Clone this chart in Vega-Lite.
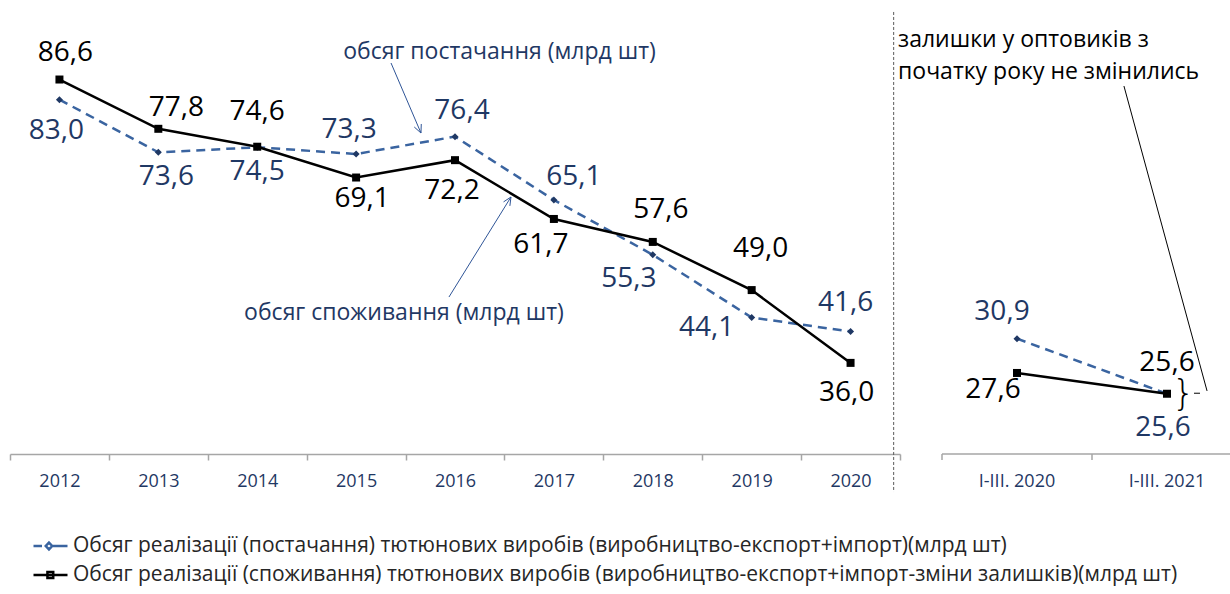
{
  "$schema": "https://vega.github.io/schema/vega-lite/v6.json",
  "padding": {"left": 9, "top": 0, "right": 0, "bottom": 4},
  "spacing": 42,
  "bounds": "flush",
  "background": "white",
  "datasets": {
    "main": [
      {"period": "2012", "series": "supply", "value": 83.0, "panel": "year"},
      {"period": "2013", "series": "supply", "value": 73.6, "panel": "year"},
      {"period": "2014", "series": "supply", "value": 74.5, "panel": "year"},
      {"period": "2015", "series": "supply", "value": 73.3, "panel": "year"},
      {"period": "2016", "series": "supply", "value": 76.4, "panel": "year"},
      {"period": "2017", "series": "supply", "value": 65.1, "panel": "year"},
      {"period": "2018", "series": "supply", "value": 55.3, "panel": "year"},
      {"period": "2019", "series": "supply", "value": 44.1, "panel": "year"},
      {"period": "2020", "series": "supply", "value": 41.6, "panel": "year"},
      {"period": "2012", "series": "consumption", "value": 86.6, "panel": "year"},
      {"period": "2013", "series": "consumption", "value": 77.8, "panel": "year"},
      {"period": "2014", "series": "consumption", "value": 74.6, "panel": "year"},
      {"period": "2015", "series": "consumption", "value": 69.1, "panel": "year"},
      {"period": "2016", "series": "consumption", "value": 72.2, "panel": "year"},
      {"period": "2017", "series": "consumption", "value": 61.7, "panel": "year"},
      {"period": "2018", "series": "consumption", "value": 57.6, "panel": "year"},
      {"period": "2019", "series": "consumption", "value": 49.0, "panel": "year"},
      {"period": "2020", "series": "consumption", "value": 36.0, "panel": "year"},
      {"period": "I-III. 2020", "series": "supply", "value": 30.9, "panel": "q1"},
      {"period": "I-III. 2021", "series": "supply", "value": 25.6, "panel": "q1"},
      {"period": "I-III. 2020", "series": "consumption", "value": 27.6, "panel": "q1"},
      {"period": "I-III. 2021", "series": "consumption", "value": 25.6, "panel": "q1"}
    ],
    "annoL": [
      {"kind": "arrow", "x": 3.853, "y": 89.55, "x2": 4.156, "y2": 77.05},
      {"kind": "arrow", "x": 4.156, "y": 77.05, "x2": 4.159, "y2": 78.66},
      {"kind": "arrow", "x": 4.156, "y": 77.05, "x2": 4.088, "y2": 78.12},
      {"kind": "arrow", "x": 4.439, "y": 47.76, "x2": 5.066, "y2": 65.62},
      {"kind": "arrow", "x": 5.066, "y": 65.62, "x2": 4.991, "y2": 64.75},
      {"kind": "arrow", "x": 5.066, "y": 65.62, "x2": 5.055, "y2": 64.03},
      {"kind": "sep", "x": 8.936, "y": 98.66, "x2": 8.936, "y2": 12.94},
      {"kind": "text", "x": 4.95, "y": 91.51, "t": "обсяг постачання (млрд шт)"},
      {"kind": "text", "x": 3.984, "y": 44.91, "t": "обсяг споживання (млрд шт)"}
    ],
    "annoR": [
      {"kind": "text", "x": -0.293, "y": 59.65, "t": "залишки у оптовиків з"},
      {"kind": "text", "x": -0.293, "y": 56.57, "t": "початку року не змінились"},
      {"kind": "lead", "x": 1.213, "y": 55.22, "x2": 1.767, "y2": 25.87},
      {"kind": "lead", "x": 1.68, "y": 25.65, "x2": 1.72, "y2": 25.65},
      {"kind": "brace", "x": 1.61, "y": 25.6, "t": "}"},
      {"kind": "axis", "x": 0, "y": 19.8, "x2": 1.9267, "y2": 19.8},
      {"kind": "axis", "x": 0, "y": 19.8, "x2": 0, "y2": 19.22},
      {"kind": "axis", "x": 1, "y": 19.8, "x2": 1, "y2": 19.22}
    ]
  },
  "hconcat": [
    {
      "width": 890,
      "height": 454,
      "layer": [
        {
          "data": {"name": "main"},
          "transform": [{"filter": "datum.panel == 'year'"}],
          "encoding": {
            "x": {"field": "period", "type": "ordinal", "bandPosition": 0.5,
              "scale": {"type": "band", "paddingInner": 0, "paddingOuter": 0},
              "axis": {"title": null, "labelAngle": 0, "tickBand": "extent", "domainColor": "#A6A6A6", "domainWidth": 1.5, "tickColor": "#A6A6A6", "tickWidth": 1.5, "tickSize": 6, "labelFont": "Open Sans", "labelFontSize": 18, "labelColor": "#1F3864", "labelPadding": 12}},
            "y": {"field": "value", "type": "quantitative", "scale": {"domain": [19.73, 100.8], "nice": false, "zero": false}, "axis": null}
          },
          "layer": [
            {"transform": [{"filter": "datum.series == 'supply'"}], "mark": {"type": "line", "color": "#3A64A0", "strokeWidth": 2.5, "strokeDash": [9, 6]}, "encoding": {}},
            {"transform": [{"filter": "datum.series == 'consumption'"}], "mark": {"type": "line", "color": "#000000", "strokeWidth": 2.5}, "encoding": {}},
            {"transform": [{"filter": "datum.series == 'supply'"}], "mark": {"type": "point", "shape": "diamond", "filled": true, "size": 49, "color": "#1F3864", "opacity": 1}},
            {"transform": [{"filter": "datum.series == 'consumption'"}], "mark": {"type": "point", "shape": "square", "filled": true, "size": 64, "color": "#000000", "opacity": 1}},
            {"transform": [{"filter": "datum.series == 'consumption' && datum.period == '2012'"}], "mark": {"type": "text", "dx": 6, "dy": -27, "color": "#000000"}, "encoding": {"text": {"field": "value", "type": "quantitative", "format": ".1f"}}},
            {"transform": [{"filter": "datum.series == 'consumption' && datum.period == '2013'"}], "mark": {"type": "text", "dx": 18, "dy": -21, "color": "#000000"}, "encoding": {"text": {"field": "value", "type": "quantitative", "format": ".1f"}}},
            {"transform": [{"filter": "datum.series == 'consumption' && datum.period == '2014'"}], "mark": {"type": "text", "dx": 0, "dy": -35, "color": "#000000"}, "encoding": {"text": {"field": "value", "type": "quantitative", "format": ".1f"}}},
            {"transform": [{"filter": "datum.series == 'consumption' && datum.period == '2015'"}], "mark": {"type": "text", "dx": 6, "dy": 21, "color": "#000000"}, "encoding": {"text": {"field": "value", "type": "quantitative", "format": ".1f"}}},
            {"transform": [{"filter": "datum.series == 'consumption' && datum.period == '2016'"}], "mark": {"type": "text", "dx": -3, "dy": 31, "color": "#000000"}, "encoding": {"text": {"field": "value", "type": "quantitative", "format": ".1f"}}},
            {"transform": [{"filter": "datum.series == 'consumption' && datum.period == '2017'"}], "mark": {"type": "text", "dx": -13, "dy": 26, "color": "#000000"}, "encoding": {"text": {"field": "value", "type": "quantitative", "format": ".1f"}}},
            {"transform": [{"filter": "datum.series == 'consumption' && datum.period == '2018'"}], "mark": {"type": "text", "dx": 8, "dy": -32, "color": "#000000"}, "encoding": {"text": {"field": "value", "type": "quantitative", "format": ".1f"}}},
            {"transform": [{"filter": "datum.series == 'consumption' && datum.period == '2019'"}], "mark": {"type": "text", "dx": 9, "dy": -41, "color": "#000000"}, "encoding": {"text": {"field": "value", "type": "quantitative", "format": ".1f"}}},
            {"transform": [{"filter": "datum.series == 'consumption' && datum.period == '2020'"}], "mark": {"type": "text", "dx": -4, "dy": 30, "color": "#000000"}, "encoding": {"text": {"field": "value", "type": "quantitative", "format": ".1f"}}},
            {"transform": [{"filter": "datum.series == 'supply' && datum.period == '2012'"}], "mark": {"type": "text", "dx": -3, "dy": 31, "color": "#1F3864"}, "encoding": {"text": {"field": "value", "type": "quantitative", "format": ".1f"}}},
            {"transform": [{"filter": "datum.series == 'supply' && datum.period == '2013'"}], "mark": {"type": "text", "dx": 8, "dy": 25, "color": "#1F3864"}, "encoding": {"text": {"field": "value", "type": "quantitative", "format": ".1f"}}},
            {"transform": [{"filter": "datum.series == 'supply' && datum.period == '2014'"}], "mark": {"type": "text", "dx": 0, "dy": 25, "color": "#1F3864"}, "encoding": {"text": {"field": "value", "type": "quantitative", "format": ".1f"}}},
            {"transform": [{"filter": "datum.series == 'supply' && datum.period == '2015'"}], "mark": {"type": "text", "dx": -7, "dy": -24, "color": "#1F3864"}, "encoding": {"text": {"field": "value", "type": "quantitative", "format": ".1f"}}},
            {"transform": [{"filter": "datum.series == 'supply' && datum.period == '2016'"}], "mark": {"type": "text", "dx": 7, "dy": -26, "color": "#1F3864"}, "encoding": {"text": {"field": "value", "type": "quantitative", "format": ".1f"}}},
            {"transform": [{"filter": "datum.series == 'supply' && datum.period == '2017'"}], "mark": {"type": "text", "dx": 20, "dy": -23, "color": "#1F3864"}, "encoding": {"text": {"field": "value", "type": "quantitative", "format": ".1f"}}},
            {"transform": [{"filter": "datum.series == 'supply' && datum.period == '2018'"}], "mark": {"type": "text", "dx": -24, "dy": 24, "color": "#1F3864"}, "encoding": {"text": {"field": "value", "type": "quantitative", "format": ".1f"}}},
            {"transform": [{"filter": "datum.series == 'supply' && datum.period == '2019'"}], "mark": {"type": "text", "dx": -45, "dy": 10, "color": "#1F3864"}, "encoding": {"text": {"field": "value", "type": "quantitative", "format": ".1f"}}},
            {"transform": [{"filter": "datum.series == 'supply' && datum.period == '2020'"}], "mark": {"type": "text", "dx": -5, "dy": -29, "color": "#1F3864"}, "encoding": {"text": {"field": "value", "type": "quantitative", "format": ".1f"}}},
            {
              "transform": [{"filter": "false"}],
              "mark": {"type": "point", "filled": false, "strokeWidth": 2.5, "opacity": 1},
              "encoding": {
                "color": {"field": "series", "type": "nominal",
                  "scale": {"domain": ["supply", "consumption"], "range": ["#3A64A0", "#000000"]},
                  "legend": {"orient": "none", "legendX": 22, "legendY": 535, "title": null, "direction": "vertical",
                    "labelExpr": "datum.value == 'supply' ? 'Обсяг реалізації (постачання) тютюнових виробів (виробництво-експорт+імпорт)(млрд шт)' : 'Обсяг реалізації (споживання) тютюнових виробів (виробництво-експорт+імпорт-зміни залишків)(млрд шт)'",
                    "labelFont": "Open Sans", "labelFontSize": 21, "labelColor": "#262626", "labelLimit": 2000,
                    "symbolSize": 1156, "symbolStrokeWidth": 2.5, "clipHeight": 22, "rowPadding": 7, "padding": 0, "labelOffset": 4}},
                "shape": {"field": "series", "type": "nominal",
                  "scale": {"domain": ["supply", "consumption"], "range": ["M-1,0H-0.5M0.15,0H1M-0.09,-0.2L0.1,0L-0.09,0.2L-0.28,0Z", "M-1,0H1M-0.18,-0.18H0.16V0.18H-0.18Z"]},
                  "legend": {"orient": "none", "legendX": 22, "legendY": 535, "title": null, "direction": "vertical",
                    "labelExpr": "datum.value == 'supply' ? 'Обсяг реалізації (постачання) тютюнових виробів (виробництво-експорт+імпорт)(млрд шт)' : 'Обсяг реалізації (споживання) тютюнових виробів (виробництво-експорт+імпорт-зміни залишків)(млрд шт)'",
                    "labelFont": "Open Sans", "labelFontSize": 21, "labelColor": "#262626", "labelLimit": 2000,
                    "symbolSize": 1156, "symbolStrokeWidth": 2.5, "clipHeight": 22, "rowPadding": 7, "padding": 0, "labelOffset": 4}}
              }
            }
          ]
        },
        {
          "data": {"name": "annoL"},
          "encoding": {
            "x": {"field": "x", "type": "quantitative", "scale": {"domain": [0, 9], "nice": false, "zero": false}, "axis": null},
            "y": {"field": "y", "type": "quantitative", "scale": {"domain": [19.73, 100.8], "nice": false, "zero": false}, "axis": null}
          },
          "layer": [
            {"transform": [{"filter": "datum.kind == 'arrow'"}], "mark": {"type": "rule", "color": "#2F5597", "strokeWidth": 1}, "encoding": {"x2": {"field": "x2"}, "y2": {"field": "y2"}}},
            {"transform": [{"filter": "datum.kind == 'sep'"}], "mark": {"type": "rule", "color": "#595959", "strokeWidth": 1, "strokeDash": [3, 2]}, "encoding": {"x2": {"field": "x2"}, "y2": {"field": "y2"}}},
            {"transform": [{"filter": "datum.kind == 'text'"}], "mark": {"type": "text", "fontSize": 23, "color": "#1F3864"}, "encoding": {"text": {"field": "t"}}}
          ]
        }
      ],
      "resolve": {"scale": {"x": "independent"}}
    },
    {
      "width": 289,
      "height": 454,
      "layer": [
        {
          "data": {"name": "main"},
          "transform": [{"filter": "datum.panel == 'q1'"}],
          "encoding": {
            "x": {"field": "period", "type": "ordinal", "bandPosition": 0.5,
              "scale": {"type": "band", "paddingInner": 0, "paddingOuter": 0, "range": [0, 300]},
              "axis": {"title": null, "labelAngle": 0, "domain": false, "ticks": false, "labelFont": "Open Sans", "labelFontSize": 18, "labelColor": "#1F3864", "labelPadding": 18}},
            "y": {"field": "value", "type": "quantitative", "scale": {"domain": [19.8, 63.5], "nice": false, "zero": false}, "axis": null}
          },
          "layer": [
            {"transform": [{"filter": "datum.series == 'supply'"}], "mark": {"type": "line", "color": "#3A64A0", "strokeWidth": 2.5, "strokeDash": [9, 6]}, "encoding": {}},
            {"transform": [{"filter": "datum.series == 'consumption'"}], "mark": {"type": "line", "color": "#000000", "strokeWidth": 2.5}, "encoding": {}},
            {"transform": [{"filter": "datum.series == 'supply'"}], "mark": {"type": "point", "shape": "diamond", "filled": true, "size": 49, "color": "#1F3864", "opacity": 1}},
            {"transform": [{"filter": "datum.series == 'consumption'"}], "mark": {"type": "point", "shape": "square", "filled": true, "size": 64, "color": "#000000", "opacity": 1}},
            {"transform": [{"filter": "datum.series == 'supply' && datum.period == 'I-III. 2020'"}], "mark": {"type": "text", "dx": -15, "dy": -27, "color": "#1F3864"}, "encoding": {"text": {"field": "value", "type": "quantitative", "format": ".1f"}}},
            {"transform": [{"filter": "datum.series == 'consumption' && datum.period == 'I-III. 2020'"}], "mark": {"type": "text", "dx": -24, "dy": 17, "color": "#000000"}, "encoding": {"text": {"field": "value", "type": "quantitative", "format": ".1f"}}},
            {"transform": [{"filter": "datum.series == 'consumption' && datum.period == 'I-III. 2021'"}], "mark": {"type": "text", "dx": 0, "dy": -31, "color": "#000000"}, "encoding": {"text": {"field": "value", "type": "quantitative", "format": ".1f"}}},
            {"transform": [{"filter": "datum.series == 'supply' && datum.period == 'I-III. 2021'"}], "mark": {"type": "text", "dx": -4, "dy": 34, "color": "#1F3864"}, "encoding": {"text": {"field": "value", "type": "quantitative", "format": ".1f"}}}
          ]
        },
        {
          "data": {"name": "annoR"},
          "encoding": {
            "x": {"field": "x", "type": "quantitative", "scale": {"domain": [0, 2], "range": [0, 300], "nice": false, "zero": false}, "axis": null},
            "y": {"field": "y", "type": "quantitative", "scale": {"domain": [19.8, 63.5], "nice": false, "zero": false}, "axis": null}
          },
          "layer": [
            {"transform": [{"filter": "datum.kind == 'lead'"}], "mark": {"type": "rule", "color": "#000000", "strokeWidth": 1}, "encoding": {"x2": {"field": "x2"}, "y2": {"field": "y2"}}},
            {"transform": [{"filter": "datum.kind == 'axis'"}], "mark": {"type": "rule", "color": "#A6A6A6", "strokeWidth": 1.5}, "encoding": {"x2": {"field": "x2"}, "y2": {"field": "y2"}}},
            {"transform": [{"filter": "datum.kind == 'text'"}], "mark": {"type": "text", "fontSize": 23, "color": "#000000", "align": "left"}, "encoding": {"text": {"field": "t"}}},
            {"transform": [{"filter": "datum.kind == 'brace'"}], "mark": {"type": "text", "fontSize": 36, "font": "DejaVu Sans", "fontWeight": 200, "color": "#000000"}, "encoding": {"text": {"field": "t"}}}
          ]
        }
      ],
      "resolve": {"scale": {"x": "independent"}}
    }
  ],
  "config": {
    "view": {"stroke": null},
    "locale": {"number": {"decimal": ",", "thousands": " ", "grouping": [3], "currency": ["", " ₴"]}},
    "text": {"font": "Open Sans", "fontSize": 28, "baseline": "middle", "align": "center"}
  }
}
